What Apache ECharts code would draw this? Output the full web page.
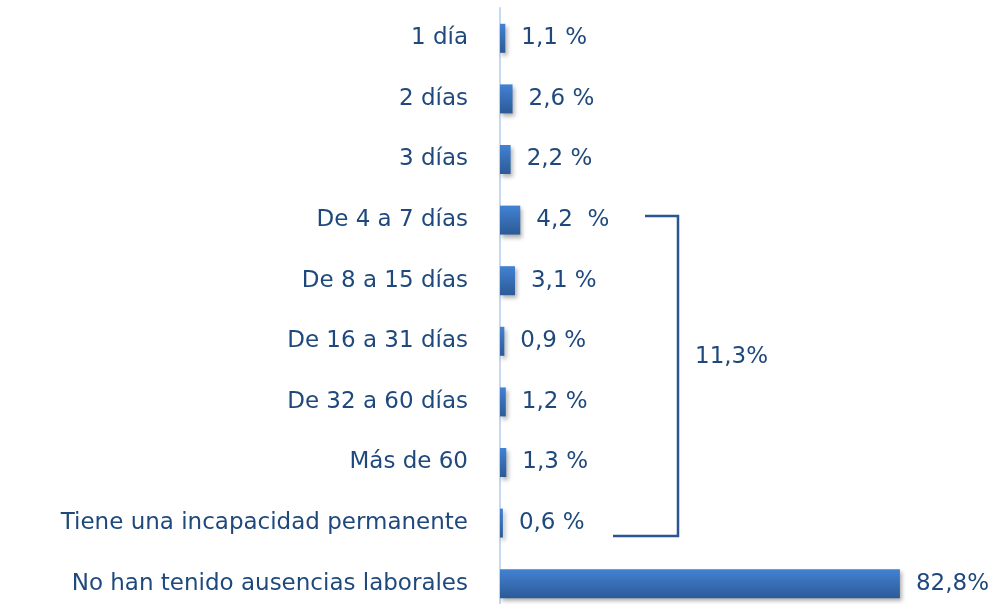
<!DOCTYPE html>
<html><head><meta charset="utf-8">
<script src="https://cdn.jsdelivr.net/npm/echarts@6/dist/echarts.min.js"></script>
<style>html,body{margin:0;padding:0;background:#fff}#c{width:997px;height:604px}</style>
</head><body><div id="c"></div>
<script>
const categories = ["1 día","2 días","3 días","De 4 a 7 días","De 8 a 15 días","De 16 a 31 días","De 32 a 60 días","Más de 60","Tiene una incapacidad permanente","No han tenido ausencias laborales"];
const values = [1.1,2.6,2.2,4.2,3.1,0.9,1.2,1.3,0.6,82.8];
const valueLabels = ["1,1 %","2,6 %","2,2 %","4,2  %","3,1 %","0,9 %","1,2 %","1,3 %","0,6 %","82,8%"];
const groupLabel = "11,3%";
const groupFirst = 3, groupLast = 8;

const textColor = '#1F497D';
const font = 'DejaVu Sans';
const chart = echarts.init(document.getElementById('c'));
chart.setOption({
  animation:false,
  grid:{left:500,width:483,top:8,height:606,containLabel:false,outerBoundsMode:'none'},
  xAxis:{type:'value',min:0,max:100,show:false},
  yAxis:{type:'category',data:categories,inverse:true,
    axisLine:{show:true,lineStyle:{color:'#C6D9F1',width:2}},
    axisTick:{show:false},
    axisLabel:{color:textColor,fontSize:23,fontFamily:font,margin:32,padding:[4,0,0,0]}},
  series:[{type:'bar',data:values,barWidth:29,
    itemStyle:{color:new echarts.graphic.LinearGradient(0,0,0,1,[{offset:0,color:'#4282D3'},{offset:1,color:'#2C5A97'}]),
      shadowColor:'rgba(0,0,0,0.3)',shadowBlur:4,shadowOffsetX:2,shadowOffsetY:3},
    label:{show:true,position:'right',distance:16,color:textColor,fontSize:23,fontFamily:font,padding:[4,0,0,0],
      formatter:p=>valueLabels[p.dataIndex]}}]
});
const yTop = chart.convertToPixel({yAxisIndex:0}, categories[groupFirst]) - 4;
const yBot = chart.convertToPixel({yAxisIndex:0}, categories[groupLast]) + 13;
const xV = 678;
chart.setOption({graphic:[
  {type:'polyline',shape:{points:[[645,yTop],[xV,yTop],[xV,yBot],[613,yBot]]},
   style:{stroke:'#2B5491',lineWidth:2.5,fill:null}},
  {type:'text',x:695,y:yTop + 0.44*(yBot-yTop),style:{text:groupLabel,fill:textColor,font:'23px "DejaVu Sans"',textVerticalAlign:'middle'}}
]});
</script></body></html>
